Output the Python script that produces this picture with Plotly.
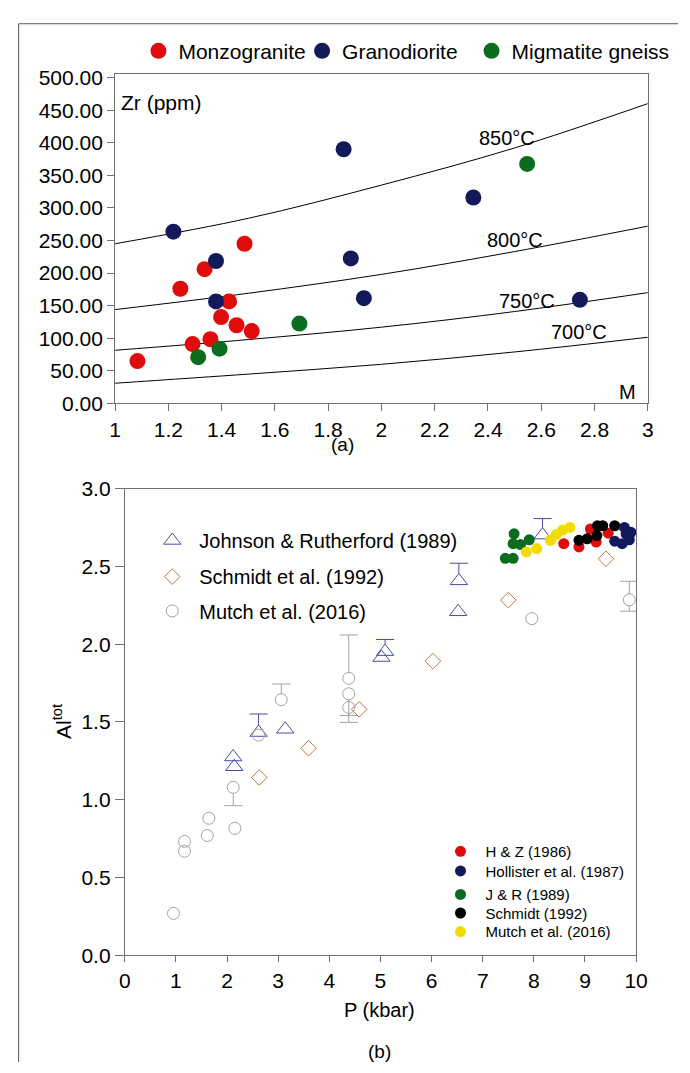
import plotly.graph_objects as go

W, H = 690, 1073

# ---------------- Panel (a) data ----------------
monzo_M = [1.084, 1.245, 1.336, 1.486, 1.428, 1.398, 1.456, 1.513, 1.358, 1.291]
monzo_Zr = [65, 176, 206, 245, 156.5, 132.5, 120, 111, 98.5, 91]
grano_M = [1.219, 1.379, 1.379, 1.858, 1.885, 1.934, 2.345, 2.745]
grano_Zr = [263.5, 218.5, 156.5, 390, 222.5, 161.5, 316, 159]
migm_M = [1.312, 1.392, 1.692, 2.547]
migm_Zr = [71, 84, 122.5, 367.5]

curve_M = [1.0, 1.5, 2.0, 2.5, 3.0]
curve_850 = [245, 284, 335, 392, 460]
curve_800 = [144, 169, 198, 233, 272]
curve_750 = [81.5, 98, 117, 141, 170]
curve_700 = [31, 45, 60, 79, 101.5]
curve_labels = ["850°C", "800°C", "750°C", "700°C"]
label_M = [2.473, 2.503, 2.547, 2.740]
label_Zr = [406.5, 250.5, 157.5, 109.5]

# ---------------- Panel (b) data ----------------
jr_P = [2.12, 2.14, 2.616, 3.137, 5.02, 5.09, 6.533, 6.52, 8.17]
jr_Al = [1.275, 1.212, 1.432, 1.453, 1.914, 1.952, 2.407, 2.208, 2.701]
jr_err_P = [2.616, 5.09, 6.533, 8.17]
jr_err_from = [1.432, 1.952, 2.407, 2.701]
jr_err_to = [1.551, 2.03, 2.52, 2.807]

sch_P = [2.629, 3.594, 4.584, 6.025, 7.50, 9.41]
sch_Al = [1.143, 1.331, 1.581, 1.891, 2.283, 2.549]

mu_P = [0.952, 1.168, 1.168, 1.644, 1.613, 2.152, 2.121, 2.616, 3.06, 4.38, 4.38, 4.38, 7.96, 9.867]
mu_Al = [0.270, 0.732, 0.669, 0.881, 0.770, 0.816, 1.080, 1.415, 1.643, 1.780, 1.681, 1.593, 2.164, 2.285]
mu_err_P = [2.121, 3.06, 4.38, 4.38, 4.38, 9.867, 9.867]
mu_err_from = [1.080, 1.643, 1.780, 1.681, 1.593, 2.285, 2.285]
mu_err_to = [0.962, 1.744, 2.059, 1.541, 1.497, 2.404, 2.212]

hz_P = [8.585, 8.882, 9.105, 9.219, 9.453]
hz_Al = [2.646, 2.625, 2.740, 2.656, 2.713]
sc_P = [8.882, 9.042, 9.232, 9.244, 9.347, 9.581]
sc_Al = [2.667, 2.677, 2.698, 2.761, 2.761, 2.761]
ho_P = [9.771, 9.899, 9.581, 9.728, 9.867, 9.804]
ho_Al = [2.750, 2.719, 2.662, 2.646, 2.671, 2.709]
jrf_P = [7.613, 7.594, 7.739, 7.910, 7.442, 7.594]
jrf_Al = [2.709, 2.646, 2.640, 2.671, 2.552, 2.552]
muf_P = [7.853, 8.057, 8.324, 8.438, 8.566, 8.705]
muf_Al = [2.593, 2.614, 2.667, 2.704, 2.734, 2.750]

# ---------------- style ----------------
FONT = "Liberation Sans, Arial, sans-serif"
RED, NAVY, GREEN = "#e00b0b", "#121a5c", "#0b6b1f"
BLACK, YELLOW = "#000000", "#f2dc00"
TRI, DIA, CIR = "#4b4ba3", "#d0703c", "#a3a3a3"
AX = "#707070"


def px(x):
    return x / W


def py(y):
    return 1 - y / H


xa_dom = [px(112), px(659)]
ya_dom = [py(400), py(63)]
xb_dom = [px(122), px(647)]
yb_dom = [py(964), py(487)]
yb_range = [0, 3]
ppu_b = H * (yb_dom[1] - yb_dom[0]) / (yb_range[1] - yb_range[0])

fig = go.Figure()

# curves
for vals in [curve_850, curve_800, curve_750, curve_700]:
    fig.add_trace(go.Scatter(x=curve_M, y=vals, mode="lines", line=dict(color="black", width=1, shape="spline"),
                             showlegend=False, hoverinfo="skip", xaxis="x", yaxis="y"))

top_groups = [("Monzogranite", monzo_M, monzo_Zr, RED, "legend"),
              ("Granodiorite", grano_M, grano_Zr, NAVY, "legend2"),
              ("Migmatite gneiss", migm_M, migm_Zr, GREEN, "legend3")]
for name, xs, ys, col, lg in top_groups:
    fig.add_trace(go.Scatter(x=xs, y=ys, mode="markers", name=name,
                             marker=dict(color=col, size=16, line=dict(width=0)),
                             xaxis="x", yaxis="y", legend=lg))


# error segments panel b
def err_trace(P, fr, to, col, r):
    xs, ys, cx, cy = [], [], [], []
    for p, a, b in zip(P, fr, to):
        off = r / ppu_b
        start = a + off if b > a else a - off
        xs += [p, p, None]
        ys += [start, b, None]
        cx.append(p)
        cy.append(b)
    fig.add_trace(go.Scatter(x=xs, y=ys, mode="lines", line=dict(color=col, width=1),
                             showlegend=False, hoverinfo="skip", xaxis="x2", yaxis="y2"))
    fig.add_trace(go.Scatter(x=cx, y=cy, mode="markers",
                             marker=dict(symbol="line-ew-open", size=13, color=col, line=dict(color=col, width=1)),
                             showlegend=False, hoverinfo="skip", xaxis="x2", yaxis="y2"))


err_trace(mu_err_P, mu_err_from, mu_err_to, CIR, 6)
err_trace(jr_err_P, jr_err_from, jr_err_to, TRI, 7.5)

fig.add_trace(go.Scatter(x=jr_P, y=jr_Al, mode="markers", name="Johnson & Rutherford (1989)",
                         marker=dict(symbol="triangle-up-open", size=15, color=TRI, line=dict(color=TRI, width=1)),
                         xaxis="x2", yaxis="y2", legend="legend4"))
fig.add_trace(go.Scatter(x=sch_P, y=sch_Al, mode="markers", name="Schmidt et al. (1992)",
                         marker=dict(symbol="diamond-open", size=12, color=DIA, line=dict(color=DIA, width=1)),
                         xaxis="x2", yaxis="y2", legend="legend5"))
fig.add_trace(go.Scatter(x=mu_P, y=mu_Al, mode="markers", name="Mutch et al. (2016)",
                         marker=dict(symbol="circle-open", size=12, color=CIR, line=dict(color=CIR, width=1)),
                         xaxis="x2", yaxis="y2", legend="legend6"))

filled = [("J & R (1989)", jrf_P, jrf_Al, GREEN, "legend9"),
          ("Mutch et al. (2016)", muf_P, muf_Al, YELLOW, "legend11"),
          ("H & Z (1986)", hz_P, hz_Al, RED, "legend7"),
          ("Schmidt (1992)", sc_P, sc_Al, BLACK, "legend10"),
          ("Hollister et al. (1987)", ho_P, ho_Al, NAVY, "legend8")]
for name, xs, ys, col, lg in filled:
    fig.add_trace(go.Scatter(x=xs, y=ys, mode="markers", name=name,
                             marker=dict(color=col, size=11, line=dict(width=0)),
                             xaxis="x2", yaxis="y2", legend=lg))

ann = []
ann.append(dict(x=1.015, y=462, xref="x", yref="y", text="Zr (ppm)", showarrow=False, xanchor="left",
                yanchor="middle", font=dict(size=21)))
for t, m, z in zip(curve_labels, label_M, label_Zr):
    ann.append(dict(x=m, y=z, xref="x", yref="y", text=t, showarrow=False, xanchor="center", yanchor="middle",
                    font=dict(size=20)))
ann.append(dict(x=2.923, y=18, xref="x", yref="y", text="M", showarrow=False, xanchor="center", yanchor="middle",
                font=dict(size=20)))


def pann(xp, yp, text, size, angle=0):
    return dict(x=px(xp), y=py(yp), xref="paper", yref="paper", text=text, showarrow=False,
                xanchor="center", yanchor="middle", textangle=angle, font=dict(size=size))


ann.append(pann(345, 442, "(a)", 19))
ann.append(pann(384, 1020, "P (kbar)", 20))
ann.append(pann(384, 1062, "(b)", 19))
ann.append(pann(58, 725, "Al<sup>tot</sup>", 21, -90))

axis_common = dict(showline=True, mirror=True, linecolor=AX, linewidth=1, ticks="outside", tickcolor=AX,
                   showgrid=False, zeroline=False, tickfont=dict(size=21, color="black"))


def leg(xpx, ypx, size, iw):
    return dict(x=px(xpx), y=py(ypx), xanchor="left", yanchor="middle", font=dict(size=size),
                bgcolor="rgba(0,0,0,0)", itemwidth=iw)


layout_legends = {
    "legend": leg(136, 40, 21, 30),
    "legend2": leg(304, 40, 21, 30),
    "legend3": leg(478, 40, 21, 30),
    "legend4": leg(143, 540, 20, 44),
    "legend5": leg(143, 577, 20, 44),
    "legend6": leg(143, 612, 20, 44),
    "legend7": leg(441, 858, 15, 40),
    "legend8": leg(441, 878, 15, 40),
    "legend9": leg(441, 902, 15, 40),
    "legend10": leg(441, 921, 15, 40),
    "legend11": leg(441, 940, 15, 40),
}

fig.update_layout(
    width=W, height=H, margin=dict(l=0, r=0, t=0, b=0),
    paper_bgcolor="white", plot_bgcolor="white",
    font=dict(family=FONT, color="black"),
    xaxis=dict(domain=xa_dom, range=[1, 3], dtick=0.2, tick0=1, ticklen=7, anchor="y", **axis_common),
    yaxis=dict(domain=ya_dom, range=[0, 506], dtick=50, tickformat=".2f", ticklen=7, anchor="x", **axis_common),
    xaxis2=dict(domain=xb_dom, range=[0, 10], dtick=1, ticklen=6, anchor="y2", **axis_common),
    yaxis2=dict(domain=yb_dom, range=yb_range, dtick=0.5, tickformat=".1f", ticklen=9, anchor="x2", **axis_common),
    annotations=ann,
    shapes=[
        dict(type="line", xref="paper", yref="paper", x0=px(13), x1=1.0, y0=py(12), y1=py(12),
             line=dict(color="#555555", width=1)),
        dict(type="line", xref="paper", yref="paper", x0=px(13), x1=px(13), y0=py(12), y1=0,
             line=dict(color="#555555", width=1)),
    ],
    showlegend=True,
    **layout_legends,
)

fig.write_html("out.html")
